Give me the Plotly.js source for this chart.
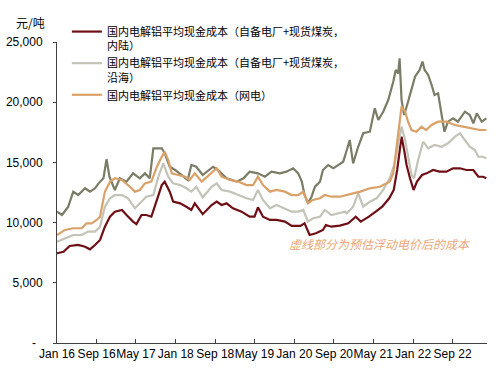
<!DOCTYPE html>
<html><head><meta charset="utf-8">
<script src="https://cdn.plot.ly/plotly-3.0.1.min.js"></script>
<style>html,body{margin:0;padding:0;background:#fff}#chart{width:500px;height:378px}</style>
</head><body><div id="chart"></div>
<script>
// 自备电厂+现货煤炭（未列入图例的深灰线）
const oliveDates = ["2016-01-01","2016-02-01","2016-03-10","2016-04-10","2016-05-10","2016-06-22","2016-07-22","2016-08-22","2016-09-13","2016-10-13","2016-11-01","2016-11-19","2016-12-22","2017-01-22","2017-03-04","2017-04-13","2017-05-25","2017-06-25","2017-07-25","2017-08-16","2017-10-07","2017-10-25","2017-11-25","2017-12-28","2018-02-07","2018-03-16","2018-04-07","2018-05-07","2018-06-16","2018-08-19","2018-09-19","2018-11-10","2019-01-10","2019-02-22","2019-04-01","2019-05-22","2019-07-04","2019-08-13","2019-10-04","2019-11-13","2019-12-25","2020-01-25","2020-02-16","2020-03-04","2020-03-25","2020-04-16","2020-05-07","2020-06-07","2020-06-25","2020-07-28","2020-08-28","2020-09-28","2020-10-28","2020-11-19","2020-12-07","2020-12-28","2021-01-28","2021-02-28","2021-04-10","2021-05-10","2021-06-01","2021-07-01","2021-08-01","2021-09-01","2021-09-16","2021-10-01","2021-10-10","2021-10-22","2021-11-07","2021-12-01","2021-12-22","2022-01-13","2022-02-10","2022-02-28","2022-03-13","2022-04-04","2022-04-25","2022-05-13","2022-06-04","2022-06-25","2022-07-13","2022-08-04","2022-09-04","2022-10-04","2022-11-16","2022-12-16","2023-01-07","2023-01-28","2023-02-28","2023-03-28"];
const oliveValues = [10900,10630,11320,12570,12290,12850,12570,12850,13260,13680,15260,13810,12710,13680,13400,14090,13680,14090,13680,16170,16170,15760,14640,14370,13950,13540,14780,14640,13950,14640,14370,13680,13400,13680,14230,14090,13810,14230,14090,14230,14510,14090,13400,12290,11600,12150,12980,13400,14370,14780,14510,14780,15060,16030,16860,14920,16300,17420,17550,19490,18520,19210,20180,21700,22680,22400,23650,20180,18940,20040,21010,22120,22680,23370,22680,22260,21430,20600,20740,18800,17550,18380,18660,18380,19210,18940,18250,19080,18380,18660];

// 网电
const gridDates = ["2016-01-01","2016-02-19","2016-04-10","2016-06-01","2016-07-01","2016-08-01","2016-09-01","2016-09-22","2016-10-22","2016-11-22","2016-12-22","2017-02-04","2017-03-13","2017-04-25","2017-05-25","2017-06-25","2017-08-04","2017-09-07","2017-10-07","2017-10-25","2017-11-16","2017-12-07","2018-01-16","2018-02-28","2018-03-28","2018-04-28","2018-06-10","2018-08-10","2018-09-10","2018-10-10","2018-12-01","2019-01-22","2019-03-13","2019-04-22","2019-05-22","2019-06-22","2019-08-04","2019-09-13","2019-11-04","2019-12-16","2020-01-25","2020-02-25","2020-03-25","2020-04-25","2020-06-07","2020-07-07","2020-08-16","2020-10-07","2020-11-28","2020-12-28","2021-02-10","2021-04-10","2021-06-10","2021-08-10","2021-09-01","2021-09-22","2021-10-07","2021-10-22","2021-11-13","2021-12-01","2021-12-22","2022-01-22","2022-02-22","2022-03-22","2022-04-25","2022-06-04","2022-07-25","2022-09-16","2022-11-04","2022-12-25","2023-02-16","2023-03-28"];
const gridValues = [8970,9390,9530,9530,9940,9940,10220,10490,12570,13400,13680,13540,13120,12570,12710,13260,13400,14640,15470,15890,15200,14090,13950,13810,13540,14090,13400,14090,14510,13810,13540,13400,13120,13120,13810,13120,12570,12710,12570,12290,12290,12570,11600,11880,12020,12290,12150,12150,12290,12430,12570,12850,12980,13400,14090,16300,18250,19630,19210,18380,17690,17550,17970,17690,18110,18380,18380,18110,17970,17830,17690,17690];

// 自备电厂+现货煤炭，沿海
const coastDates = ["2016-01-01","2016-02-19","2016-04-10","2016-06-01","2016-07-10","2016-08-22","2016-09-22","2016-10-22","2016-11-22","2016-12-22","2017-02-04","2017-03-13","2017-04-25","2017-05-25","2017-07-04","2017-08-16","2017-09-16","2017-10-16","2017-11-16","2017-12-16","2018-01-28","2018-03-07","2018-04-07","2018-05-07","2018-06-16","2018-08-10","2018-09-10","2018-10-10","2018-12-01","2019-01-22","2019-03-13","2019-04-22","2019-05-22","2019-06-22","2019-08-04","2019-09-13","2019-11-04","2019-12-16","2020-01-25","2020-02-25","2020-03-25","2020-04-25","2020-06-07","2020-07-07","2020-08-16","2020-09-25","2020-11-07","2020-11-19","2020-12-28","2021-01-28","2021-02-28","2021-04-10","2021-05-22","2021-07-01","2021-08-10","2021-09-10","2021-10-07","2021-10-22","2021-11-13","2021-12-01","2021-12-22","2022-01-07","2022-02-01","2022-03-04","2022-04-04","2022-05-13","2022-06-25","2022-08-04","2022-09-16","2022-10-16","2022-11-16","2022-12-16","2023-01-16","2023-02-07","2023-03-07","2023-03-28"];
const coastValues = [8410,8700,8970,8970,9250,9250,9660,11320,12020,12290,12290,12020,11190,11600,12150,12290,13810,14920,13810,13260,13120,12850,12570,12980,12100,12980,13260,12710,12570,12290,12020,11880,12710,11880,11190,11460,11190,10910,10910,11050,10080,10360,10490,11050,10630,10770,10910,10770,11320,12430,11320,11740,12020,12710,13680,14920,16860,17970,16860,15470,13950,13680,15200,16720,16170,16450,16300,16590,17140,17420,16860,16300,16030,15470,15470,15340];

// 自备电厂+现货煤炭，内陆
const inlandDates = ["2016-01-01","2016-02-10","2016-03-19","2016-05-10","2016-06-22","2016-07-22","2016-08-22","2016-09-22","2016-10-22","2016-11-22","2016-12-22","2017-02-04","2017-03-04","2017-04-13","2017-05-04","2017-06-04","2017-07-04","2017-08-04","2017-09-07","2017-10-07","2017-10-25","2017-11-25","2017-12-16","2018-01-28","2018-03-07","2018-04-07","2018-04-28","2018-06-16","2018-08-10","2018-09-10","2018-10-10","2018-11-10","2018-12-19","2019-02-10","2019-04-01","2019-05-01","2019-05-22","2019-06-22","2019-08-04","2019-09-13","2019-11-04","2019-12-16","2020-02-07","2020-03-04","2020-04-04","2020-05-13","2020-06-25","2020-07-13","2020-08-16","2020-10-07","2020-11-28","2021-01-13","2021-02-13","2021-04-04","2021-05-16","2021-06-25","2021-08-07","2021-09-04","2021-09-25","2021-10-10","2021-10-22","2021-11-07","2021-11-22","2021-12-13","2022-01-04","2022-01-25","2022-02-25","2022-03-25","2022-05-04","2022-06-13","2022-07-25","2022-09-04","2022-10-16","2022-11-25","2023-01-07","2023-02-07","2023-03-07","2023-03-28"];
const inlandValues = [7450,7580,8060,8140,8000,7780,8140,8560,9660,10490,10910,11050,10630,10080,9880,10630,10630,10490,11880,13120,13400,12570,11740,11600,11320,11050,11600,10700,11460,11740,11460,11600,11190,10910,10490,10490,11270,10490,10220,10220,10080,9720,9720,9940,8970,9110,9390,9800,9660,9750,9940,10490,10080,10490,10910,11320,12020,12710,14370,16030,17140,16030,14780,13680,12710,13400,13950,14090,14370,14230,14230,14510,14510,14370,14370,13810,13810,13680];

const legendNames = [
  "国内电解铝平均现金成本（自备电厂+现货煤炭，<br>内陆）",
  "国内电解铝平均现金成本（自备电厂+现货煤炭，<br>沿海）",
  "国内电解铝平均现金成本（网电）"
];
const tickDates = ["2016-01-01","2016-09-01","2017-05-01","2018-01-01","2018-09-01","2019-05-01","2020-01-01","2020-09-01","2021-05-01","2022-01-01","2022-09-01"];
const tickLabels = ["Jan 16","Sep 16","May 17","Jan 18","Sep 18","May 19","Jan 20","Sep 20","May 21","Jan 22","Sep 22"];
const yTicks = [0,5000,10000,15000,20000,25000];
const yTickLabels = ["-\u00a0\u00a0","5,000","10,000","15,000","20,000","25,000"];

const FONT = "Liberation Sans, Arial, Noto Sans CJK SC, sans-serif";
const CJK = "Noto Sans CJK SC, Liberation Sans, sans-serif";

const traces = [
  {x: oliveDates, y: oliveValues, type: "scatter", mode: "lines", showlegend: false,
   line: {color: "#7b7c66", width: 2.2}, hoverinfo: "skip"},
  {x: inlandDates, y: inlandValues, type: "scatter", mode: "lines", name: legendNames[0],
   line: {color: "#6e0f16", width: 2.2}},
  {x: coastDates, y: coastValues, type: "scatter", mode: "lines", name: legendNames[1],
   line: {color: "#c3c3b8", width: 2.2}},
  {x: gridDates, y: gridValues, type: "scatter", mode: "lines", name: legendNames[2],
   line: {color: "#d9a168", width: 2.2}}
];

const layout = {
  width: 500, height: 378,
  margin: {l: 57, r: 13, t: 42, b: 35},
  paper_bgcolor: "#fff", plot_bgcolor: "#fff",
  font: {family: FONT, size: 12, color: "#000"},
  showlegend: true,
  legend: {x: 0.023, y: 1.08, xanchor: "left", yanchor: "top", valign: "top",
    bgcolor: "rgba(0,0,0,0)", font: {family: CJK, size: 11, color: "#000"},
    tracegroupgap: 0, itemwidth: 30},
  xaxis: {type: "date", range: ["2016-01-01", "2023-04-01"],
    tickvals: tickDates, ticktext: tickLabels, tickangle: 0,
    showgrid: false, zeroline: false, showline: true, linecolor: "#404040", linewidth: 1,
    ticks: "inside", ticklen: 4, tickcolor: "#404040",
    tickfont: {family: FONT, size: 12, color: "#000"}},
  yaxis: {range: [0, 25000], tickvals: yTicks, ticktext: yTickLabels,
    showgrid: false, zeroline: false, showline: true, linecolor: "#404040", linewidth: 1,
    ticks: "outside", ticklen: 3, tickcolor: "#404040", ticklabelstandoff: 8,
    tickfont: {family: FONT, size: 12, color: "#000"}},
  annotations: [
    {text: "元/吨", xref: "paper", yref: "paper", x: -0.023, y: 1.066,
     xanchor: "right", yanchor: "middle", showarrow: false,
     font: {family: CJK, size: 12, color: "#000"}},
    {text: "<i>虚线部分为预估浮动电价后的成本</i>", xref: "paper", yref: "paper", x: 0.751, y: 0.332,
     xanchor: "center", yanchor: "middle", showarrow: false,
     font: {family: CJK, size: 12, color: "#eaa878"}}
  ]
};

Plotly.newPlot("chart", traces, layout, {displayModeBar: false, staticPlot: true});
</script></body></html>
